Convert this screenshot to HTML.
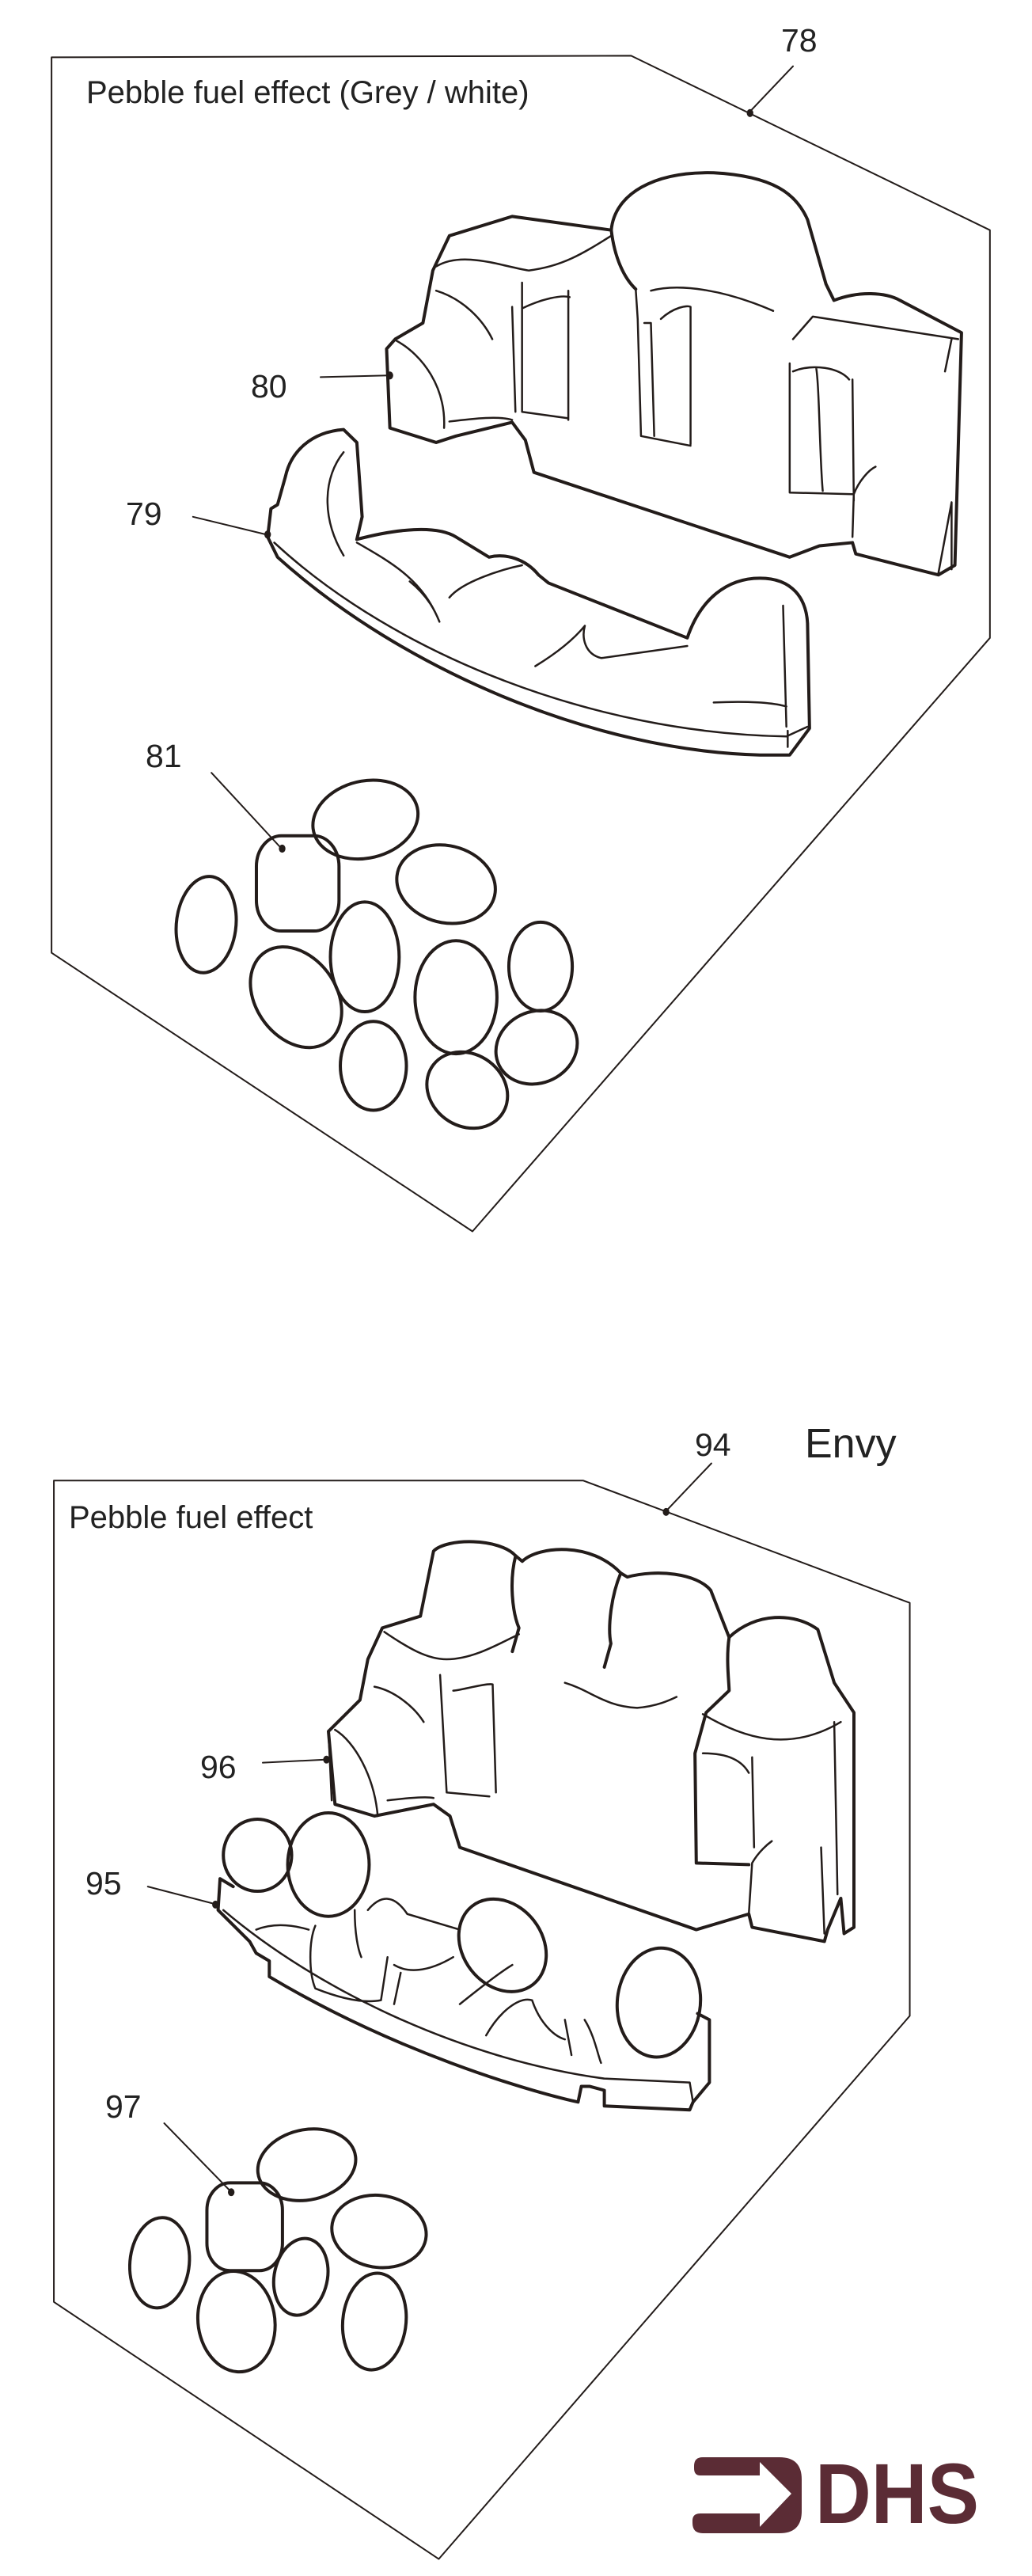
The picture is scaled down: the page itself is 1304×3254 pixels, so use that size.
<!DOCTYPE html>
<html><head><meta charset="utf-8">
<style>
html,body{margin:0;padding:0;background:#fff;}
svg{display:block;}
text{font-family:"Liberation Sans",sans-serif;fill:#222;}
.s{fill:none;stroke:#231c1a;stroke-linecap:round;stroke-linejoin:round;vector-effect:non-scaling-stroke;}
.w{stroke-width:4;}
.t{stroke-width:2.5;}
.b{stroke-width:2;}
</style></head>
<body>
<svg width="1304" height="3254" viewBox="0 0 1304 3254" xmlns="http://www.w3.org/2000/svg">
<rect width="1304" height="3254" fill="#fff"/>

<!-- TOP PANEL -->
<g transform="scale(0.835,1.02)">
  <polyline class="s b" points="78,71 955,69 1498,285 1498,790 715,1525 78,1180 78,71"/>
  <line class="s b" x1="1200" y1="82" x2="1135" y2="138"/>
  <circle cx="1135" cy="140" r="5" fill="#231c1a"/>
  <!-- rock 80 -->
  <path class="s w" d="M585,432 L598,420 L640,400 L655,335 L680,292 L775,268 L925,285 C930,240 990,212 1080,214 C1170,218 1205,240 1222,272 L1250,352 L1262,372 C1300,360 1340,362 1362,372 L1455,412 L1445,700 L1420,712 L1295,686 L1290,672 L1240,676 L1195,690 L808,585 L795,545 L775,523 L690,540 L660,548 L590,530 Z"/>
  <path class="s w" d="M925,285 C930,320 945,345 962,358"/>
  <path class="s t" d="M660,330 C700,310 760,330 800,335 C850,330 880,315 925,292"/>
  <path class="s t" d="M775,380 L780,510 M790,350 L790,510 L860,518 M860,360 L860,520 M790,382 C820,370 850,365 862,368"/>
  <path class="s t" d="M962,358 L965,395 L970,540 L1045,552 M985,360 C1030,350 1100,360 1170,385 M1000,395 C1020,380 1040,378 1045,380 L1045,550 M975,400 L985,400 L990,540"/>
  <path class="s t" d="M1200,420 L1230,392 L1450,420 M1195,450 L1195,610 L1290,612 M1200,460 C1230,450 1270,455 1285,470 M1290,470 L1292,620 M1235,455 C1240,480 1240,560 1245,608 M1430,460 L1440,420"/>
  <path class="s t" d="M1290,665 L1292,612 C1300,595 1315,582 1325,578 M1420,710 L1440,622 L1440,705"/>
  <path class="s t" d="M600,422 C640,440 675,480 672,530 M680,522 C720,518 755,515 775,520 M660,360 C700,370 730,395 745,420"/>
  <!-- curb 79 -->
  <path class="s w" d="M410,630 L420,625 L432,590 C440,560 470,535 520,532 L540,548 L548,640 L540,668 C600,655 660,650 690,665 L740,690 C765,685 795,692 815,712 L830,722 L1040,790 C1060,742 1100,716 1150,716 C1200,716 1220,742 1222,772 L1225,902 L1195,935 L1150,935 C900,930 610,830 420,690 L405,665 Z"/>
  <path class="s t" d="M415,672 C600,812 900,908 1190,912 L1222,900 M1192,905 L1192,925"/>
  <path class="s t" d="M520,560 C490,590 485,640 520,688 M540,672 C600,700 640,720 665,770 M620,720 C650,740 660,760 665,770 M680,740 C700,720 760,705 790,700 M810,825 C860,800 880,780 885,775 M885,775 C880,790 885,810 910,815 L1040,800 M1080,870 C1130,868 1170,870 1190,875 M1185,750 L1190,900"/>
  <!-- pebbles 81 -->
  <ellipse class="s w" cx="553" cy="1015" rx="80" ry="48" transform="rotate(-8 553 1015)"/>
  <rect class="s w" x="388" y="1035" width="125" height="118" rx="38"/>
  <ellipse class="s w" cx="312" cy="1145" rx="45" ry="60" transform="rotate(10 312 1145)"/>
  <ellipse class="s w" cx="675" cy="1095" rx="75" ry="48" transform="rotate(8 675 1095)"/>
  <ellipse class="s w" cx="448" cy="1235" rx="75" ry="55" transform="rotate(35 448 1235)"/>
  <ellipse class="s w" cx="552" cy="1185" rx="52" ry="68"/>
  <ellipse class="s w" cx="690" cy="1235" rx="62" ry="70"/>
  <ellipse class="s w" cx="818" cy="1197" rx="48" ry="55"/>
  <ellipse class="s w" cx="565" cy="1320" rx="50" ry="55"/>
  <ellipse class="s w" cx="707" cy="1350" rx="62" ry="46" transform="rotate(15 707 1350)"/>
  <ellipse class="s w" cx="812" cy="1297" rx="62" ry="45" transform="rotate(-10 812 1297)"/>
  <!-- leaders -->
  <line class="s b" x1="485" y1="467" x2="588" y2="465"/><circle cx="590" cy="465" r="5" fill="#231c1a"/>
  <line class="s b" x1="292" y1="640" x2="403" y2="662"/><circle cx="405" cy="662" r="5" fill="#231c1a"/>
  <line class="s b" x1="320" y1="957" x2="425" y2="1050"/><circle cx="427" cy="1051" r="5" fill="#231c1a"/>
</g>
<text x="109" y="130" font-size="40">Pebble fuel effect (Grey / white)</text>
<text x="987" y="65" font-size="41">78</text>
<text x="317" y="502" font-size="41">80</text>
<text x="159" y="663" font-size="41">79</text>
<text x="184" y="969" font-size="41">81</text>

<!-- BOTTOM PANEL -->
<g transform="translate(0,1700) scale(0.83,0.99)">
  <polyline class="s b" points="82,172 888,172 1385,328 1385,855 668,1548 82,1220 82,172"/>
  <line class="s b" x1="1083" y1="150" x2="1015" y2="210"/>
  <circle cx="1014" cy="212" r="5" fill="#231c1a"/>
  <!-- rock 96 -->
  <path class="s w" d="M500,492 L548,452 L560,400 L582,360 L640,345 L660,262 C680,245 760,245 785,268 L795,275 C820,255 900,250 945,290 L955,295 C1000,285 1060,290 1082,312 L1110,372 C1150,340 1210,340 1245,362 L1270,430 L1300,468 L1300,742 L1285,750 L1280,705 L1260,745 L1255,760 L1145,742 L1140,725 L1060,745 L700,640 L685,600 L660,585 L570,600 L510,585 Z"/>
  <path class="s w" d="M785,268 C775,300 780,340 790,360 L780,390 M945,290 C930,320 925,360 930,380 L920,410 M1110,372 C1105,400 1110,430 1110,440 L1075,468 L1058,520 L1060,660 L1140,662"/>
  <path class="s t" d="M585,365 C620,385 650,400 680,400 C720,400 760,380 790,368 M670,420 L680,570 L745,575 M690,440 C700,440 740,430 750,432 L755,570 M860,430 C900,440 920,460 970,462 C1000,460 1020,452 1030,448 M1070,470 C1130,500 1200,520 1280,480 M1070,520 C1110,520 1130,530 1140,545 M1145,525 L1148,640 M1140,725 L1145,660 C1155,645 1170,635 1175,632 M1250,640 L1255,750 M1270,480 L1275,700"/>
  <path class="s t" d="M500,492 L505,580 M510,490 C540,505 570,550 575,600 M570,435 C600,440 630,460 645,480 M590,580 C620,577 650,575 660,577"/>
  <!-- curb 95 -->
  <path class="s w" d="M335,680 L332,720 L380,760 L390,775 L410,785 L410,805 C600,900 800,950 880,965 L885,945 L898,945 L920,950 L920,970 L1050,975 L1055,965 L1080,940 L1080,860 L1062,852 M335,680 L355,690"/>
  <path class="s t" d="M340,720 C480,820 700,910 920,935 L1050,940 L1055,965 M560,720 C580,700 600,700 620,725 L700,745 M480,740 C470,760 470,800 480,820 C510,830 550,840 580,835 L590,780 M600,790 C620,800 650,800 690,780 M610,800 L600,840 M700,840 C730,820 760,800 780,790 M740,880 C760,850 790,830 810,835 C820,860 840,880 860,885 M860,860 L870,905 M890,860 C905,880 910,905 915,915"/>
  <path class="s t" d="M390,745 C420,735 450,740 470,745 M540,720 C540,750 545,770 550,780"/>
  <ellipse class="s w" cx="392" cy="650" rx="52" ry="46" fill="#fff"/>
  <ellipse class="s w" cx="500" cy="662" rx="62" ry="66" fill="#fff"/>
  <ellipse class="s w" cx="765" cy="765" rx="70" ry="55" transform="rotate(30 765 765)" fill="#fff"/>
  <ellipse class="s w" cx="1003" cy="838" rx="63" ry="70" transform="rotate(15 1003 838)" fill="#fff"/>
  <!-- pebbles 97 -->
  <ellipse class="s w" cx="467" cy="1045" rx="75" ry="45" transform="rotate(-8 467 1045)"/>
  <rect class="s w" x="315" y="1068" width="115" height="112" rx="35"/>
  <ellipse class="s w" cx="243" cy="1170" rx="45" ry="58" transform="rotate(10 243 1170)"/>
  <ellipse class="s w" cx="577" cy="1130" rx="72" ry="46" transform="rotate(5 577 1130)"/>
  <ellipse class="s w" cx="458" cy="1188" rx="40" ry="50" transform="rotate(20 458 1188)"/>
  <ellipse class="s w" cx="360" cy="1245" rx="58" ry="65" transform="rotate(-20 360 1245)"/>
  <ellipse class="s w" cx="570" cy="1245" rx="48" ry="62" transform="rotate(10 570 1245)"/>
  <!-- leaders -->
  <line class="s b" x1="400" y1="532" x2="495" y2="528"/><circle cx="497" cy="528" r="5" fill="#231c1a"/>
  <line class="s b" x1="225" y1="690" x2="326" y2="712"/><circle cx="328" cy="713" r="5" fill="#231c1a"/>
  <line class="s b" x1="250" y1="992" x2="350" y2="1078"/><circle cx="352" cy="1080" r="5" fill="#231c1a"/>
</g>
<text x="87" y="1930" font-size="40">Pebble fuel effect</text>
<text x="878" y="1839" font-size="41">94</text>
<text x="1017" y="1841" font-size="52">Envy</text>
<text x="253" y="2246" font-size="41">96</text>
<text x="108" y="2393" font-size="41">95</text>
<text x="133" y="2675" font-size="41">97</text>

<!-- DHS logo -->
<path fill="#5b2c35" d="M888,3104 L985,3104 Q1013,3104 1013,3132 L1013,3172 Q1013,3200 985,3200 L888,3200 Q875,3200 875,3187 L875,3184 Q875,3175 885,3175 L960,3175 L960,3192 L1000,3150 L960,3110 L960,3127 L885,3127 Q877,3127 877,3118 L877,3115 Q877,3104 888,3104 Z"/>
<text x="1030" y="3187" font-size="108" font-weight="bold" textLength="207" lengthAdjust="spacingAndGlyphs" style="fill:#5b2c35">DHS</text>
</svg>
</body></html>
